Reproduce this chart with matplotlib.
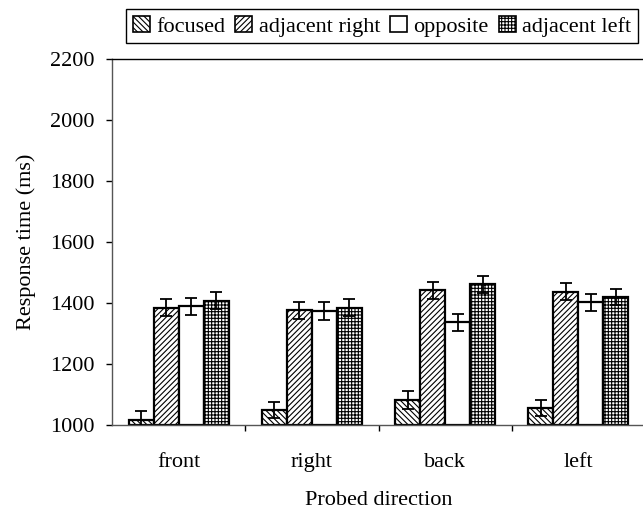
import numpy as np
import matplotlib
matplotlib.use("Agg")
from matplotlib import pyplot as plt
from matplotlib.patches import Patch

# Values (ms)
directions = ["front", "right", "back", "left"]
series = ["focused", "adjacent right", "opposite", "adjacent left"]
focused = [1015, 1049, 1082, 1056]
adj_right = [1385, 1376, 1441, 1437]
opposite = [1389, 1374, 1336, 1402]
adj_left = [1408, 1385, 1461, 1419]
err_focused = [30, 27, 30, 27]
err_adj_right = [27, 28, 27, 27]
err_opposite = [27, 29, 27, 27]
err_adj_left = [27, 27, 28, 26]

hatches = ["\\\\\\\\\\\\", "//////", "", "+++++"]

plt.rcParams["font.family"] = ["Liberation Serif", "DejaVu Serif"]
plt.rcParams["hatch.linewidth"] = 0.8

fig = plt.figure(figsize=(6.43, 5.16), dpi=100)
ax = fig.add_axes([0.1742, 0.1764, 0.829, 0.7093])

x = np.arange(len(directions))
w = 0.1875
vals = [focused, adj_right, opposite, adj_left]
errs = [err_focused, err_adj_right, err_opposite, err_adj_left]

for i in range(4):
    pos = x + (i - 1.5) * w
    ax.bar(pos, np.array(vals[i]) - 1000, bottom=1000, width=w,
           color="white", edgecolor="black", linewidth=1.6, hatch=hatches[i],
           zorder=2)
    ax.errorbar(pos, vals[i], yerr=errs[i], fmt="none", ecolor="black",
                elinewidth=1.3, capsize=4.5, capthick=1.3, zorder=3)

ax.set_xlim(-0.5, 3.5)
ax.set_ylim(1000, 2200)
ax.set_yticks(range(1000, 2201, 200))
ax.tick_params(axis="y", direction="out", length=4.5, width=1, pad=8,
               labelsize=16)

# boundary ticks between groups, labels at the centres
ax.set_xticks([0.5, 1.5, 2.5])
ax.set_xticklabels([])
ax.tick_params(axis="x", which="major", direction="out", length=4, width=1)
ax.set_xticks(x, minor=True)
ax.set_xticklabels(directions, minor=True)
ax.tick_params(axis="x", which="minor", length=0, pad=20, labelsize=16)

for s in ["left", "bottom", "top", "right"]:
    ax.spines[s].set_linewidth(1.0)
ax.spines["bottom"].set_color("#555555")
ax.spines["left"].set_color("#555555")

ax.set_ylabel("Response time (ms)", fontsize=16, labelpad=10)
ax.set_xlabel("Probed direction", fontsize=16, labelpad=14)

handles = [Patch(facecolor="white", edgecolor="black", hatch=h, linewidth=1.2)
           for h in hatches]
fig.legend(handles, series, loc="upper right", ncol=4,
           bbox_to_anchor=(638 / 643, 1 - 9 / 516), fontsize=16,
           frameon=True, fancybox=False, edgecolor="black", framealpha=1,
           handlelength=0.75, handleheight=0.75, handletextpad=0.3,
           columnspacing=0.45, borderpad=0.3, borderaxespad=0)

fig.savefig("out.png", dpi=100)
